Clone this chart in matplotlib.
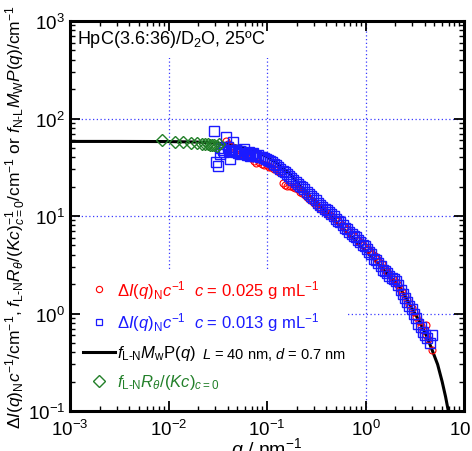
import matplotlib.pyplot as plt
from matplotlib.lines import Line2D
from matplotlib.patches import Rectangle

plt.rcParams['font.family'] = ['Liberation Sans', 'DejaVu Sans']
plt.rcParams['mathtext.fontset'] = 'custom'
plt.rcParams['mathtext.rm'] = 'Liberation Sans'
plt.rcParams['mathtext.it'] = 'Liberation Sans:italic'
plt.rcParams['mathtext.bf'] = 'Liberation Sans:bold'

# fitted curve f_L-N Mw P(q)
curve_q = [0.001, 0.003, 0.01, 0.02, 0.03, 0.04, 0.05, 0.07, 0.1, 0.13, 0.17, 0.22, 0.28,
           0.35, 0.45, 0.6, 0.8, 1.0, 1.3, 1.7, 2.2, 2.8, 3.5, 4.2, 4.8, 5.4, 6.0, 6.5, 7.0, 7.5]
curve_i = [58.2, 58.2, 58.0, 57.3, 56.0, 54.2, 52.0, 48.0, 40.5, 34.0, 27.0, 20.0, 15.6,
           12.5, 9.8, 7.3, 5.5, 4.4, 3.35, 2.5, 1.9, 1.25, 0.84, 0.58, 0.41, 0.3, 0.2, 0.14, 0.095, 0.062]

# SLS, f_L-N R_theta/(Kc)_c=0
sls_q = [0.00865, 0.0116, 0.0141, 0.0169, 0.0196, 0.0217, 0.0235, 0.0250, 0.0264, 0.0279,
         0.0292, 0.0309, 0.0326]
sls_i = [60.7, 57.4, 58.0, 56.7, 55.8, 55.2, 55.2, 54.5, 53.9, 53.9, 53.3, 52.6, 54.5]

# SAXS, c = 0.025 g/mL
red_q = [0.038, 0.040, 0.043, 0.046, 0.049, 0.053, 0.056, 0.060, 0.064, 0.068, 0.073, 0.078,
         0.083, 0.088, 0.094, 0.099, 0.105, 0.111, 0.118, 0.125, 0.132, 0.139, 0.145, 0.152,
         0.160, 0.171, 0.182, 0.193, 0.205, 0.217, 0.229, 0.242, 0.256, 0.27, 0.285, 0.30,
         0.318, 0.336, 0.355, 0.375, 0.396, 0.418, 0.441, 0.466, 0.492, 0.52, 0.549, 0.58,
         0.612, 0.646, 0.682, 0.72, 0.76, 0.802, 0.847, 0.894, 0.944, 0.997, 1.05, 1.11,
         1.17, 1.24, 1.31, 1.38, 1.46, 1.54, 1.62, 1.71, 1.81, 1.91, 2.02, 2.13, 2.25, 2.37,
         2.5, 2.64, 2.79, 2.94, 3.11, 3.28, 3.46, 3.65, 3.86, 4.07, 4.16, 4.3, 4.75]
red_i = [59, 55, 52, 49, 47, 43, 44, 41, 40, 39, 36.5, 35, 35.5, 34.5, 33.5, 33, 32, 31.5,
         30.5, 29.5, 28.5, 27.5, 21.9, 21, 20.5, 20.5, 20, 19.5, 18.8, 17.8, 17.3, 16.5,
         15.7, 14.8, 14.2, 13.5, 13, 12.4, 11.9, 11.5, 11, 10.6, 10.2, 9.7, 9.3, 8.9, 8.5,
         8.1, 7.7, 7.3, 6.9, 6.6, 6.2, 5.9, 5.6, 5.35, 5.1, 4.8, 4.6, 4.35, 4.1, 3.85, 3.6,
         3.4, 3.2, 2.95, 2.75, 2.6, 2.4, 2.25, 2.1, 1.95, 1.8, 1.65, 1.5, 1.38, 1.25, 1.15,
         1.03, 0.93, 0.84, 0.75, 0.68, 0.6, 0.76, 0.55, 0.42]

# SAXS, c = 0.013 g/mL
blue_q = [0.029, 0.0304, 0.032, 0.0333, 0.0345, 0.0357, 0.037, 0.038, 0.040, 0.041, 0.042,
          0.044, 0.0455, 0.047, 0.049, 0.051, 0.053, 0.055, 0.058, 0.060, 0.062, 0.065, 0.067,
          0.070, 0.072, 0.075, 0.078, 0.081, 0.085, 0.089, 0.093, 0.097, 0.102, 0.107, 0.112,
          0.118, 0.124, 0.130, 0.137, 0.144, 0.151, 0.159, 0.167, 0.176, 0.185, 0.195, 0.205,
          0.216, 0.228, 0.240, 0.253, 0.267, 0.281, 0.296, 0.312, 0.329, 0.346, 0.365, 0.385,
          0.405, 0.427, 0.450, 0.474, 0.500, 0.527, 0.555, 0.585, 0.616, 0.649, 0.684, 0.721,
          0.760, 0.800, 0.843, 0.888, 0.936, 0.986, 1.04, 1.09, 1.15, 1.21, 1.28, 1.35, 1.42,
          1.49, 1.57, 1.66, 1.75, 1.84, 1.94, 2.04, 2.15, 2.27, 2.39, 2.52, 2.65, 2.79, 2.94,
          3.10, 3.27, 3.44, 3.63, 3.82, 4.02, 4.24, 4.52, 4.75]
blue_i = [74, 36, 32.5, 43, 50, 48, 45, 64, 51, 46, 38.5, 47, 57, 45, 48, 44, 46.5, 43.5,
          48.5, 44, 42.5, 45, 41, 43, 44.5, 41.5, 41, 42, 40, 40.5, 39, 38.5, 37.5, 37, 35.5,
          34.5, 33, 32, 30.5, 29, 28, 27, 26, 24.5, 23.5, 22.5, 21.5, 20.5, 19.8, 18.8, 17.8,
          16.8, 16, 15.3, 14.5, 13.6, 13, 12.4, 11.8, 11.4, 11, 10.4, 9.9, 9.3, 8.8, 8.6, 8.0,
          7.6, 7.4, 6.9, 6.6, 6.3, 6.1, 5.7, 5.4, 5.1, 4.9, 4.6, 4.3, 4.1, 3.6, 3.5, 3.3, 3.05,
          2.8, 2.75, 2.6, 2.4, 2.3, 2.25, 2.15, 1.98, 1.75, 1.6, 1.45, 1.3, 1.2, 1.1, 0.98, 0.9,
          0.78, 0.72, 0.65, 0.6, 0.56, 0.5, 0.6]

GREEN = '#23802a'
BLUE = '#1a1aff'
GRID = '#3a3aff'

fig = plt.figure(figsize=(4.72, 4.52), dpi=100)
ax = fig.add_axes([70 / 472, 40 / 452, 394 / 472, 390 / 452])
ax.set_xscale('log')
ax.set_yscale('log')
ax.set_xlim(1e-3, 1e1)
ax.set_ylim(1e-1, 1e3)

# dotted grid at the decades (drawn by hand so the legend box can sit on top of it)
for e in [1e-2, 1e-1, 1e0]:
    ax.axvline(e, color=GRID, lw=0.9, ls=(0, (1, 2)), zorder=0.3)
for e in [1e0, 1e1, 1e2]:
    ax.axhline(e, color=GRID, lw=0.9, ls=(0, (1, 2)), zorder=0.3)
ax.add_patch(Rectangle((0, 0), 0.703, 0.359, transform=ax.transAxes,
                       facecolor='white', edgecolor='none', zorder=0.4))

ax.plot(curve_q, curve_i, color='black', lw=2.2, zorder=2)
ax.plot(red_q, red_i, 'o', ms=5, mfc='none', mec='red', mew=0.8, zorder=3)
ax.plot(blue_q, blue_i, 's', ms=6.8, mfc='none', mec=BLUE, mew=1.0, zorder=4)
ax.plot(sls_q, sls_i, 'D', ms=6, mfc='none', mec=GREEN, mew=1.0, zorder=5)

handles = [
    Line2D([], [], ls='none', marker='o', ms=4.5, mfc='none', mec='red', mew=0.8),
    Line2D([], [], ls='none', marker='s', ms=5, mfc='none', mec=BLUE, mew=0.9),
    Line2D([], [], color='black', lw=2.2),
    Line2D([], [], ls='none', marker='D', ms=6, mfc='none', mec=GREEN, mew=1.0),
]
labels = [
    r'$\Delta I(q)_{\rm N}c^{-1}$  $c$ = 0.025 g mL$^{-1}$',
    r'$\Delta I(q)_{\rm N}c^{-1}$  $c$ = 0.013 g mL$^{-1}$',
    r'$f_{\rm L\text{-}N}M_{\rm w}$P($q$)',
    r'$f_{\rm L\text{-}N}R_{\theta}/(Kc)_{c=0}$',
]
leg = ax.legend(handles, labels, loc='lower left', bbox_to_anchor=(0.033, 0.05),
                borderaxespad=0, borderpad=0, frameon=False, fontsize=12,
                handlelength=1.9, handletextpad=0.15, labelspacing=0.6)
for t, c in zip(leg.get_texts(), ['red', BLUE, 'black', GREEN]):
    t.set_color(c)
ax.text(0.335, 0.147, r'$L$ = 40 nm, $d$ = 0.7 nm', transform=ax.transAxes,
        fontsize=10.5, va='center', ha='left')

ax.text(0.018, 0.954, r'HpC(3.6:36)/D$_2$O, 25ºC', transform=ax.transAxes,
        fontsize=13, va='center', ha='left', zorder=1,
        bbox=dict(facecolor='white', edgecolor='none', pad=6))

ax.set_xlabel(r'$q$ / nm$^{-1}$', fontsize=14, labelpad=-3)
ax.set_ylabel(r'$\Delta I(q)_{\rm N}c^{-1}$/cm$^{-1}$, $f_{\rm L\text{-}N}R_{\theta}/(Kc)^{-1}_{c=0}$/cm$^{-1}$'
              r' or $f_{\rm N\text{-}L}M_{\rm W}P(q)$/cm$^{-1}$', fontsize=12.5, labelpad=0)

for s in ax.spines.values():
    s.set_linewidth(2.2)
ax.tick_params(which='both', direction='in', top=True, right=True, labelsize=13.5)
ax.tick_params(which='major', length=7, width=1.3)
ax.tick_params(which='minor', length=3.5, width=1.0)
ax.tick_params(axis='x', which='major', pad=6)

fig.savefig('out.png', dpi=100)
